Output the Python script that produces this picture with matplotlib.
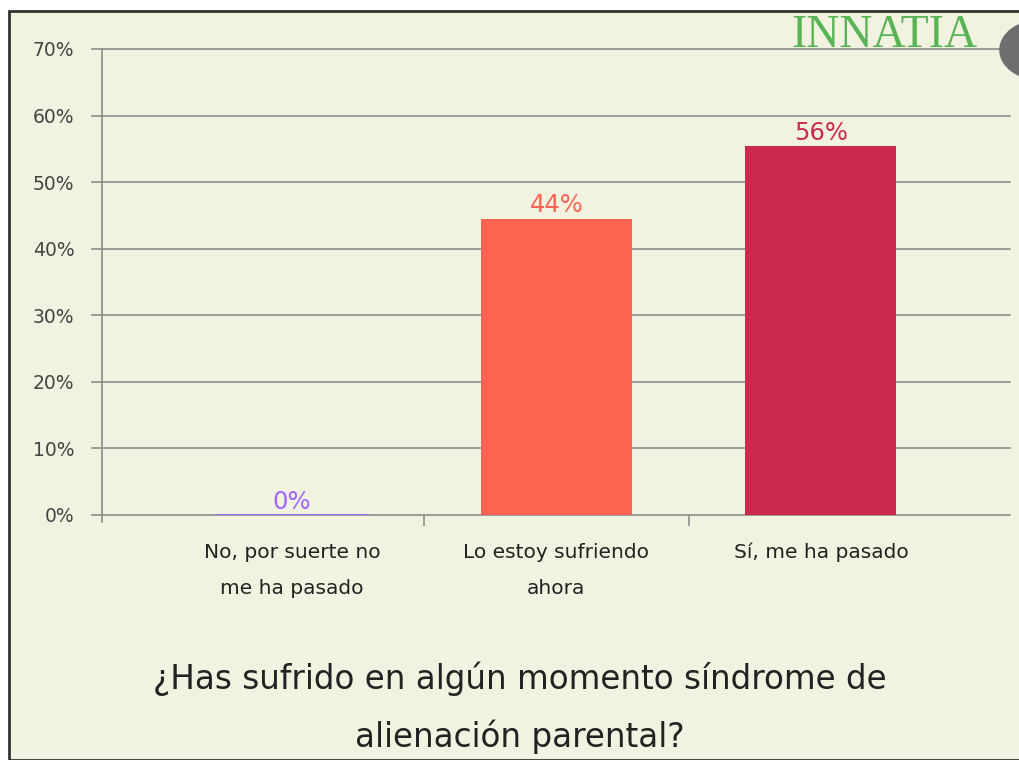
import matplotlib.pyplot as plt
from matplotlib.patches import Rectangle, Circle

categorias = ["No, por suerte no\nme ha pasado", "Lo estoy sufriendo\nahora", "Sí, me ha pasado"]
valores = [0.0, 0.445, 0.554]
etiquetas = ["0%", "44%", "56%"]
colores = ["#A066FF", "#FF6352", "#CC2A4C"]
yticks = [0, 0.1, 0.2, 0.3, 0.4, 0.5, 0.6, 0.7]
titulo = "¿Has sufrido en algún momento síndrome de\nalienación parental?"

fondo = "#F2F2E1"
W, H = 1019, 760
fig = plt.figure(figsize=(W / 100, H / 100), dpi=100)
fig.patch.set_facecolor("white")

# marco de la imagen
fig.patches.append(Rectangle((9 / W, 0), 1, 1 - 11 / H, transform=fig.transFigure,
                             facecolor=fondo, edgecolor="#333333", linewidth=2, zorder=-5))
fig.patches.append(Circle((1040 / W, 1 - 50 / H), 0.04, transform=fig.transFigure,
                          facecolor="#6E6E6E", edgecolor="none", zorder=5))

ax = fig.add_axes([102 / W, 1 - 515 / H, (1010 - 102) / W, (515 - 49) / H])
ax.set_facecolor(fondo)
ax.patch.set_alpha(0)

ax.set_xlim(-0.718, 2.715)
ax.set_ylim(0, 0.7)

for yv in yticks:
    ax.axhline(yv, color="#8C8C8C", linewidth=1.2, zorder=1, xmin=-0.011, clip_on=False)

for i, (v, c, e) in enumerate(zip(valores, colores, etiquetas)):
    if v > 0:
        ax.bar(i, v, width=0.571, color=c, zorder=2)
    else:
        ax.plot([i - 0.2855, i + 0.2855], [0, 0], color=c, linewidth=2, zorder=3)
    ax.text(i, v + 0.002, e, ha="center", va="bottom", color=c, fontsize=17.5)

ax.set_yticks(yticks)
ax.set_yticklabels(["{:d}%".format(int(round(t * 100))) for t in yticks],
                   fontsize=13.5, color="#444444")
ax.tick_params(axis="y", length=0, pad=20)
ax.set_xticks([0.5, 1.5])
ax.set_xticklabels([])
ax.tick_params(axis="x", length=8, color="#8C8C8C", width=1.2, direction="out")

for s in ["top", "right", "bottom"]:
    ax.spines[s].set_visible(False)
ax.spines["left"].set_color("#8C8C8C")
ax.spines["left"].set_linewidth(1.2)
ax.spines["left"].set_bounds(-0.01, 0.7)

for i, cat in enumerate(categorias):
    ax.text(i, -0.042, cat, ha="center", va="top", fontsize=14.5, color="#222222",
            linespacing=2.15)

fig.text(520 / W, 1 - 708 / H, titulo, ha="center", va="center", fontsize=23.5,
         color="#222222", linespacing=1.85)

fig.text(978 / W, 1 - 36 / H, "INNATIA", ha="right", va="center", fontsize=33,
         family="Liberation Serif", color="#3DAA3D", alpha=0.85, zorder=6)

fig.savefig("out.png", dpi=100, facecolor=fig.get_facecolor())
